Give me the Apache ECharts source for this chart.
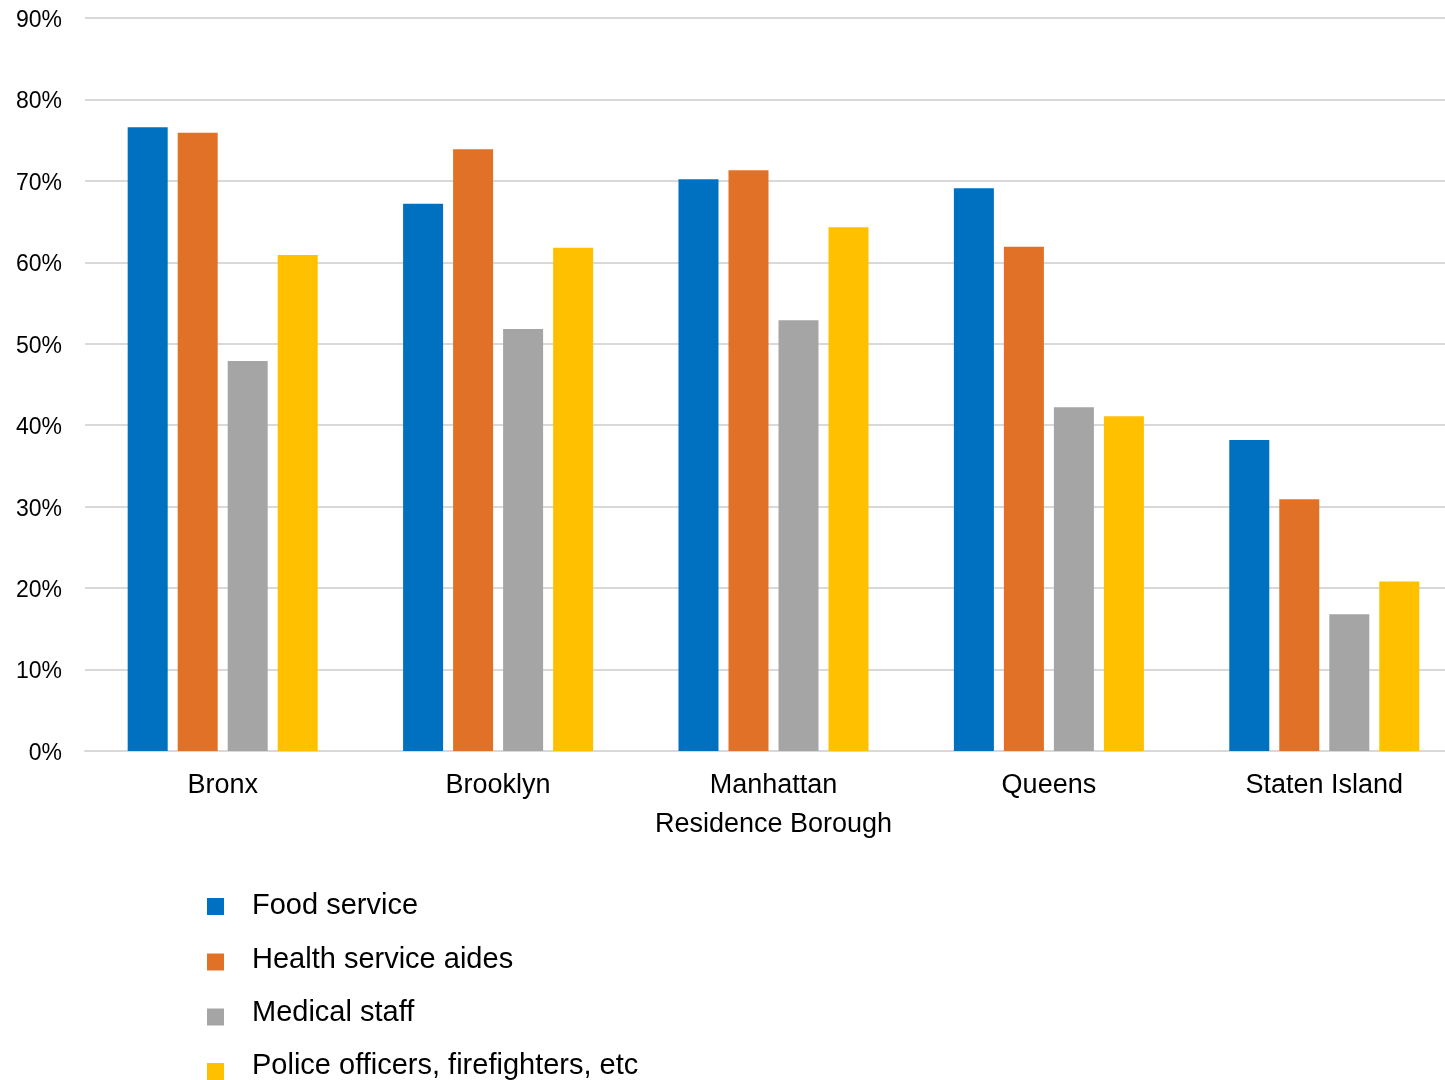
<!DOCTYPE html>
<html>
<head>
<meta charset="utf-8">
<script src="https://cdn.jsdelivr.net/npm/echarts@6/dist/echarts.min.js"></script>
<style>
  html, body { margin: 0; padding: 0; background: #fff; }
  #chart { width: 1445px; height: 1080px; }
</style>
</head>
<body>
<div id="chart"></div>
<script>
// Share of workers by occupation group, per residence borough (percent)
const boroughs = ['Bronx', 'Brooklyn', 'Manhattan', 'Queens', 'Staten Island'];
const foodService = [76.6, 67.2, 70.2, 69.1, 38.2];
const healthAides = [75.9, 73.9, 71.3, 61.9, 30.9];
const medicalStaff = [47.9, 51.8, 52.9, 42.2, 16.8];
const policeFire = [60.9, 61.8, 64.3, 41.1, 20.8];
const seriesNames = ['Food service', 'Health service aides', 'Medical staff', 'Police officers, firefighters, etc'];
const colors = ['#0070C0', '#E07127', '#A5A5A5', '#FFC000'];

const FONT = '"Liberation Sans", Arial, sans-serif';
const seriesData = [foodService, healthAides, medicalStaff, policeFire];

// Legend rows: each row is its own block. The square swatch sits a little
// lower than its label, by iconDrop px (the icon box grows to hold the drop).
const legendTops = [891, 945, 998.5, 1051];
const iconDrop = [1, 2.5, 4, 6];
const SW = 17;

function swatchPath(drop) {
  const y0 = 2 * drop;
  const y1 = y0 + SW;
  return 'path://M0,0L0,0M0,' + y0 + 'L' + SW + ',' + y0 + 'L' + SW + ',' + y1 + 'L0,' + y1 + 'Z';
}

const chart = echarts.init(document.getElementById('chart'));
chart.setOption({
  animation: false,
  color: colors,
  // the plot runs a little past the right edge of the canvas
  grid: { left: 85, right: -17, top: 18, bottom: 329, containLabel: false, outerBoundsMode: 'none' },
  legend: seriesNames.map((name, i) => ({
    data: [name],
    orient: 'vertical',
    left: 207,
    top: legendTops[i],
    padding: 0,
    icon: swatchPath(iconDrop[i]),
    itemWidth: SW,
    itemHeight: SW + 2 * iconDrop[i],
    selectedMode: false,
    textStyle: {
      fontFamily: FONT,
      fontSize: 29,
      color: '#000',
      padding: [0, 0, 0, 23]
    }
  })),
  xAxis: {
    type: 'category',
    data: boroughs,
    name: 'Residence Borough',
    nameLocation: 'middle',
    nameGap: 60,
    nameTextStyle: { fontFamily: FONT, fontSize: 27, color: '#000' },
    axisTick: { show: false },
    axisLine: { lineStyle: { color: '#D9D9D9', width: 2 } },
    axisLabel: { fontFamily: FONT, fontSize: 27, color: '#000', margin: 21 }
  },
  yAxis: {
    type: 'value',
    min: 0,
    max: 90,
    interval: 10,
    axisLine: { show: false },
    axisTick: { show: false },
    splitLine: { lineStyle: { color: '#D9D9D9', width: 2 } },
    axisLabel: {
      margin: 23,
      formatter: '{p|{value}%}',
      rich: {
        p: { fontFamily: FONT, fontSize: 23, color: '#000', padding: [5, 0, 0, 0] }
      }
    }
  },
  series: seriesNames.map((name, i) => ({
    name,
    type: 'bar',
    data: seriesData[i],
    barGap: '25%',
    barCategoryGap: '31%',
    itemStyle: { color: colors[i] }
  }))
});
</script>
</body>
</html>
